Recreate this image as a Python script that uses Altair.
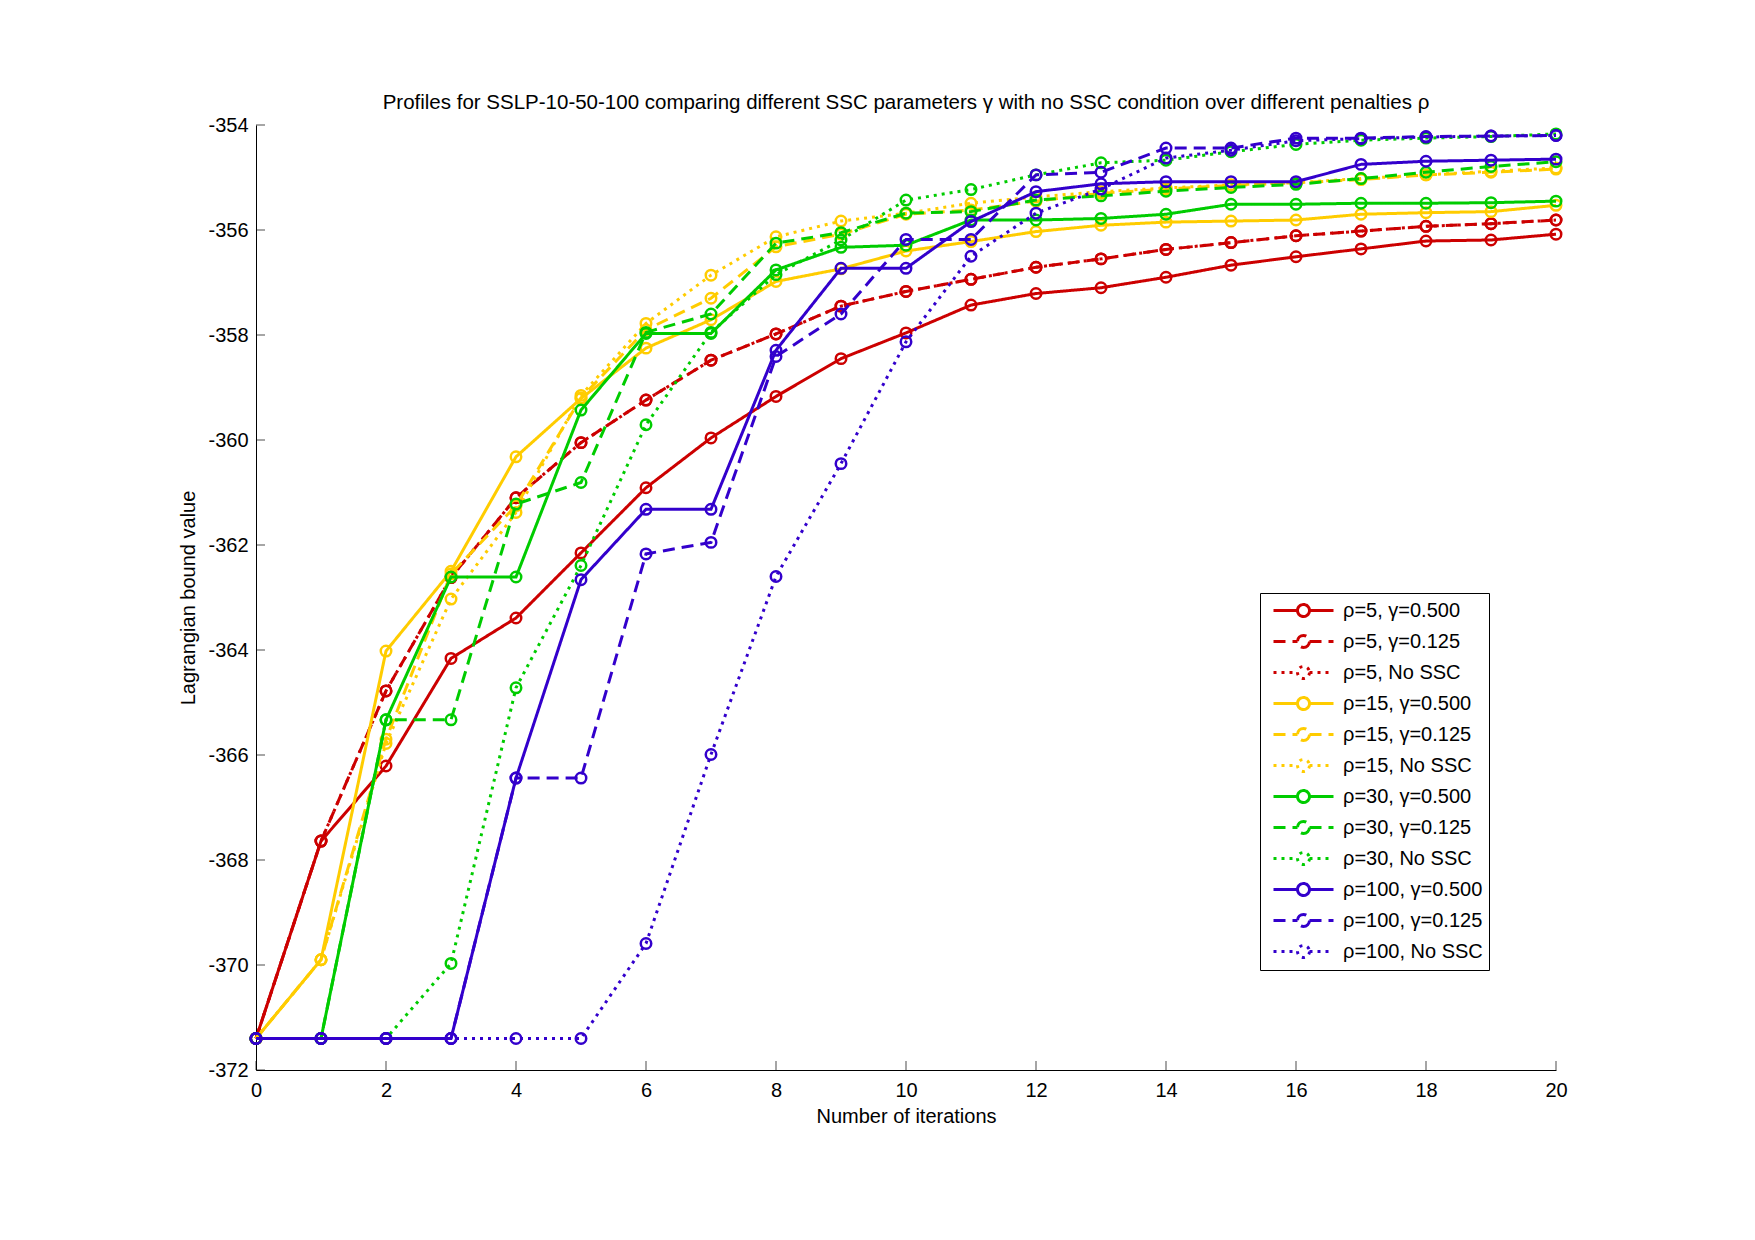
import altair as alt
import pandas as pd

iterations = list(range(21))

series_names = [
    "ρ=5, γ=0.500", "ρ=5, γ=0.125", "ρ=5, No SSC",
    "ρ=15, γ=0.500", "ρ=15, γ=0.125", "ρ=15, No SSC",
    "ρ=30, γ=0.500", "ρ=30, γ=0.125", "ρ=30, No SSC",
    "ρ=100, γ=0.500", "ρ=100, γ=0.125", "ρ=100, No SSC",
]

rho5_g500 = [-371.4, -367.64, -366.21, -364.16, -363.39, -362.15, -360.91, -359.96, -359.17, -358.45,
             -357.96, -357.43, -357.21, -357.10, -356.90, -356.67, -356.51, -356.36, -356.21, -356.19, -356.08]
rho5_g125 = [-371.4, -367.64, -364.78, -362.62, -361.10, -360.05, -359.24, -358.48, -357.98, -357.45,
             -357.17, -356.94, -356.71, -356.55, -356.37, -356.24, -356.11, -356.02, -355.93, -355.88, -355.81]
rho5_nossc = [-371.4, -367.64, -364.78, -362.62, -361.10, -360.05, -359.24, -358.48, -357.98, -357.45,
              -357.17, -356.94, -356.71, -356.55, -356.37, -356.24, -356.11, -356.02, -355.93, -355.88, -355.81]
rho15_g500 = [-371.4, -369.90, -364.02, -362.50, -360.32, -359.21, -358.25, -357.71, -356.98, -356.74,
              -356.40, -356.22, -356.03, -355.91, -355.85, -355.83, -355.81, -355.70, -355.67, -355.65, -355.53]
rho15_g125 = [-371.4, -369.90, -365.70, -362.55, -361.25, -359.20, -357.90, -357.30, -356.32, -356.08,
              -355.70, -355.62, -355.45, -355.30, -355.22, -355.15, -355.10, -355.04, -354.95, -354.90, -354.84]
rho15_nossc = [-371.4, -369.90, -365.78, -363.03, -361.38, -359.15, -357.78, -356.86, -356.13, -355.83,
               -355.68, -355.49, -355.37, -355.27, -355.20, -355.14, -355.10, -355.02, -354.95, -354.88, -354.82]
rho30_g500 = [-371.4, -371.4, -365.33, -362.61, -362.61, -359.43, -357.97, -357.97, -356.76, -356.33,
              -356.29, -355.81, -355.81, -355.78, -355.70, -355.51, -355.51, -355.49, -355.49, -355.48, -355.45]
rho30_g125 = [-371.4, -371.4, -365.33, -365.33, -361.22, -360.81, -357.95, -357.60, -356.25, -356.05,
              -355.68, -355.65, -355.43, -355.35, -355.26, -355.19, -355.13, -355.02, -354.90, -354.79, -354.70]
rho30_nossc = [-371.4, -371.4, -371.4, -369.97, -364.72, -362.39, -359.71, -357.95, -356.85, -356.19,
               -355.43, -355.23, -354.95, -354.72, -354.67, -354.51, -354.37, -354.29, -354.25, -354.22, -354.17]
rho100_g500 = [-371.4, -371.4, -371.4, -371.4, -366.44, -362.66, -361.32, -361.32, -358.29, -356.73,
               -356.73, -355.84, -355.27, -355.12, -355.08, -355.08, -355.08, -354.75, -354.69, -354.67, -354.65]
rho100_g125 = [-371.4, -371.4, -371.4, -371.4, -366.44, -366.44, -362.17, -361.95, -358.41, -357.60,
               -356.18, -356.18, -354.95, -354.90, -354.44, -354.44, -354.25, -354.25, -354.22, -354.21, -354.20]
rho100_nossc = [-371.4, -371.4, -371.4, -371.4, -371.4, -371.4, -369.59, -365.99, -362.60, -360.45,
                -358.13, -356.50, -355.68, -355.22, -354.63, -354.48, -354.30, -354.26, -354.23, -354.21, -354.20]

all_values = [rho5_g500, rho5_g125, rho5_nossc, rho15_g500, rho15_g125, rho15_nossc,
              rho30_g500, rho30_g125, rho30_nossc, rho100_g500, rho100_g125, rho100_nossc]

series_colors = ["#cc0000"] * 3 + ["#ffcc00"] * 3 + ["#00cc00"] * 3 + ["#3300cc"] * 3
solid, dashed, dotted = [1, 0], [12, 7], [3, 5]
series_dashes = [solid, dashed, dotted] * 4

x_tick_values = list(range(0, 21, 2))
y_tick_values = list(range(-372, -353, 2))

title_text = ("Profiles for SSLP-10-50-100 comparing different SSC parameters γ "
              "with no SSC condition over different penalties ρ")

rows = []
for name, vals in zip(series_names, all_values):
    for it, v in zip(iterations, vals):
        rows.append({"iter": it, "value": v, "series": name})
df = pd.DataFrame(rows)

FONT = "Liberation Sans"
W, H = 1300, 945

xscale = alt.Scale(domain=[0, 20], nice=False, zero=False)
yscale = alt.Scale(domain=[-372, -354], nice=False, zero=False)
color_scale = alt.Scale(domain=series_names, range=series_colors)
dash_scale = alt.Scale(domain=series_names, range=series_dashes)

x_axis = alt.Axis(values=x_tick_values, ticks=False, grid=False, labelFlush=False,
                  labelPadding=10, titlePadding=6, labelExpr="'' + datum.value")
y_axis = alt.Axis(values=y_tick_values, ticks=False, grid=False, labelFlush=False,
                  labelPadding=8, titlePadding=9, labelExpr="'' + datum.value")

X_TITLE = "Number of iterations"
Y_TITLE = "Lagrangian bound value"

SYMBOL = "M-3,0H-0.6M0.6,0H3M0.6,0A0.6,0.6,0,1,1,-0.6,0A0.6,0.6,0,1,1,0.6,0"
legend = alt.Legend(title=None, orient="none", legendX=1004, legendY=468,
                    symbolType=SYMBOL, symbolSize=400, symbolStrokeWidth=3,
                    symbolFillColor="white", symbolOffset=26, labelOffset=28,
                    labelFontSize=20, labelFont=FONT, labelColor="black",
                    rowPadding=6, padding=6, strokeColor="black", fillColor="white",
                    labelLimit=400)

layers = []
for name in series_names:
    base = alt.Chart(df).transform_filter(alt.datum.series == name)
    line = base.mark_line(strokeWidth=3, strokeCap="butt").encode(
        x=alt.X("iter:Q", scale=xscale, axis=x_axis, title=X_TITLE),
        y=alt.Y("value:Q", scale=yscale, axis=y_axis, title=Y_TITLE),
        color=alt.Color("series:N", scale=color_scale, legend=legend),
        strokeDash=alt.StrokeDash("series:N", scale=dash_scale, legend=legend),
    )
    pts = base.mark_point(shape="circle", filled=False, size=110, strokeWidth=2.5,
                          opacity=1).encode(
        x=alt.X("iter:Q", scale=xscale, axis=x_axis, title=X_TITLE),
        y=alt.Y("value:Q", scale=yscale, axis=y_axis, title=Y_TITLE),
        color=alt.Color("series:N", scale=color_scale, legend=legend),
    )
    layers += [line, pts]

xt_df = pd.DataFrame({"t": x_tick_values})
yt_df = pd.DataFrame({"t": y_tick_values})
xticks = alt.Chart(xt_df).mark_tick(orient="vertical", size=9, thickness=1, color="black").encode(
    x=alt.X("t:Q", scale=xscale, axis=x_axis, title=X_TITLE),
    y=alt.value(H - 4.5),
)
yticks = alt.Chart(yt_df).mark_tick(orient="horizontal", size=9, thickness=1, color="black").encode(
    y=alt.Y("t:Q", scale=yscale, axis=y_axis, title=Y_TITLE),
    x=alt.value(4.5),
)

chart = alt.layer(xticks, yticks, *layers).properties(
    width=W, height=H,
    padding={"left": 256, "top": 125, "right": 199, "bottom": 170},
    autosize=alt.AutoSizeParams(type="none"),
    title=alt.TitleParams(title_text, fontSize=20.5, fontWeight="normal", font=FONT,
                          color="black", offset=2),
    background="white",
).configure_view(stroke=None).configure_axis(
    domainColor="black", domainWidth=1, labelFont=FONT, labelFontSize=20,
    labelColor="black", titleFont=FONT, titleFontSize=20, titleFontWeight="normal",
    titleColor="black",
)

chart.save("out.html", embed_options={"renderer": "svg", "actions": False})
